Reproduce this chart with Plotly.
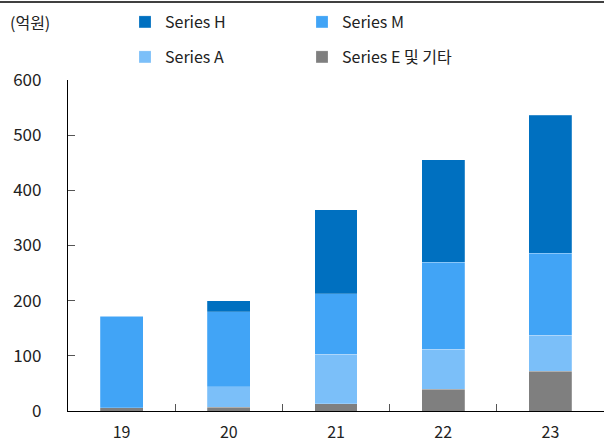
import plotly.graph_objects as go

years = ["19", "20", "21", "22", "23"]
series_e = [6, 7, 13, 39, 72]
series_a = [0, 37, 90, 73, 65]
series_m = [166, 136, 110, 158, 149]
series_h = [0, 20, 152, 185, 250]
y_ticks = [0, 100, 200, 300, 400, 500, 600]
unit_label = "(억원)"

FONT = "Noto Sans CJK KR"
W, H = 604, 446
ML, MR, MT, MB = 68, 0, 80, 35
plot_h = H - MT - MB
plot_w = W - ML - MR

fig = go.Figure()
line = dict(color="rgba(255,255,255,0.35)", width=0.6)
fig.add_bar(x=years, y=series_e, name="Series E 및 기타", marker=dict(color="#7F7F7F", line=line), legend="legend2")
fig.add_bar(x=years, y=series_a, name="Series A", marker=dict(color="#7BBFF9", line=line), legend="legend2")
fig.add_bar(x=years, y=series_m, name="Series M", marker=dict(color="#41A4F6", line=line), legend="legend")
fig.add_bar(x=years, y=series_h, name="Series H", marker=dict(color="#0070C0", line=line), legend="legend")

def ypx(p):
    return (H - MB - p) / plot_h

legend_common = dict(
    orientation="h", xanchor="left", yanchor="middle", x=(125 - ML) / plot_w,
    font=dict(family=FONT, size=16, color="#222"), entrywidth=132, entrywidthmode="pixels",
    bgcolor="rgba(0,0,0,0)", itemclick=False, tracegroupgap=0,
)
fig.update_layout(
    width=W, height=H,
    margin=dict(l=ML, r=MR, t=MT, b=MB, autoexpand=False),
    plot_bgcolor="white", paper_bgcolor="white",
    barmode="stack", bargap=0.6,
    font=dict(family=FONT, size=16, color="#222"),
    legend=dict(**legend_common, y=ypx(22), traceorder="reversed"),
    legend2=dict(**legend_common, y=ypx(57), traceorder="reversed"),
    xaxis=dict(
        showline=True, linecolor="#000", linewidth=1.3, automargin=False,
        ticks="inside", ticklen=7, tickcolor="#555", tickson="boundaries",
        ticklabelstandoff=7, showgrid=False,
        tickfont=dict(family=FONT, size=16, color="#222"),
    ),
    yaxis=dict(
        range=[0, 600], tickvals=y_ticks, showline=True, linecolor="#000", linewidth=1.3,
        ticks="inside", ticklen=7, tickcolor="#555", showgrid=False, zeroline=False,
        ticklabelstandoff=22, automargin=False,
        tickfont=dict(family=FONT, size=17, color="#222"),
    ),
    shapes=[dict(type="line", xref="paper", yref="paper", x0=-ML / plot_w, x1=1,
                 y0=ypx(2), y1=ypx(2), line=dict(color="#000", width=1.5))],
    annotations=[dict(text=unit_label, xref="paper", yref="paper", x=-60 / plot_w, y=ypx(22),
                      xanchor="left", yanchor="middle", showarrow=False,
                      font=dict(family=FONT, size=16, color="#222"))],
)

fig.write_html("out.html")
